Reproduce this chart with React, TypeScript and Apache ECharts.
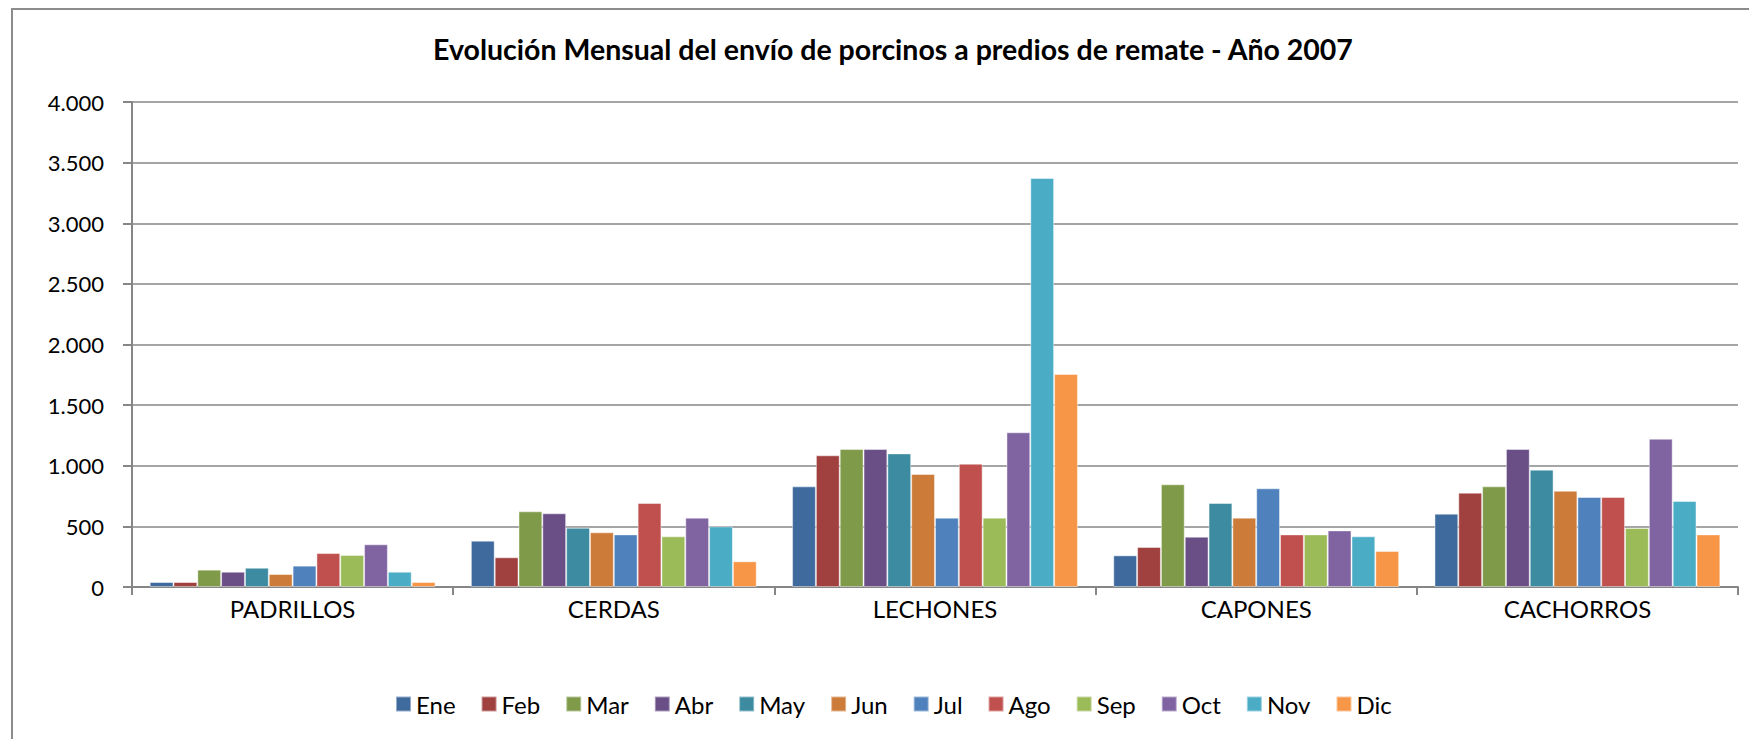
import React, { useEffect, useRef } from "react";
import * as echarts from "echarts";

const categories = ["PADRILLOS", "CERDAS", "LECHONES", "CAPONES", "CACHORROS"];
const months = ["Ene", "Feb", "Mar", "Abr", "May", "Jun", "Jul", "Ago", "Sep", "Oct", "Nov", "Dic"];

const ene = [41, 382, 830, 261, 605];
const feb = [41, 245, 1086, 330, 778];
const mar = [143, 624, 1138, 847, 830];
const abr = [126, 608, 1138, 415, 1138];
const may = [159, 489, 1102, 693, 968];
const jun = [107, 451, 932, 572, 794];
const jul = [176, 434, 572, 814, 742];
const ago = [280, 693, 1017, 434, 742];
const sep = [264, 418, 572, 434, 487];
const oct = [352, 572, 1276, 467, 1223];
const nov = [126, 500, 3373, 418, 709];
const dic = [41, 212, 1757, 297, 434];

const seriesValues = [ene, feb, mar, abr, may, jun, jul, ago, sep, oct, nov, dic];

const colors = [
  "#3F6A9E", "#A0403F", "#7F9A48", "#6A4F87", "#3C8BA1", "#CC7B38",
  "#4F81BD", "#C0504D", "#9BBB59", "#8064A2", "#4BACC6", "#F79646",
];

const yTicks = [0, 500, 1000, 1500, 2000, 2500, 3000, 3500, 4000];

const titleText = "Evolución Mensual del envío de porcinos a predios de remate - Año 2007";

function fmt(v: number): string {
  return String(v).replace(/\B(?=(\d{3})+(?!\d))/g, ".");
}

export default function App() {
  const ref = useRef<HTMLDivElement>(null);
  useEffect(() => {
    if (!ref.current) return;
    const chart = echarts.init(ref.current, null, { renderer: "svg" });
    const font = "Lato";
    chart.setOption({
      animation: false,
      backgroundColor: "#ffffff",
      color: colors,
      graphic: [
        {
          type: "rect",
          shape: { x: 12, y: 9, width: 1800, height: 800 },
          style: { fill: "none", stroke: "#8c8c8c", lineWidth: 2 },
          silent: true,
          z: -1,
        },
        {
          type: "text",
          x: 893,
          y: 49,
          silent: true,
          style: {
            text: titleText,
            align: "center",
            verticalAlign: "middle",
            fontFamily: font,
            fontWeight: "bold",
            fontSize: 28.5,
            fill: "#000",
          },
        },
      ],
      legend: {
        data: months,
        top: 687,
        left: 390,
        icon: "rect",
        itemWidth: 15,
        itemHeight: 15,
        itemGap: 25,
        textStyle: { fontFamily: font, fontSize: 24, color: "#000" },
      },
      grid: { left: 132, right: 11, top: 102, bottom: 152, containLabel: false },
      xAxis: {
        type: "category",
        data: categories,
        axisLine: { lineStyle: { color: "#868686", width: 2 } },
        axisTick: { show: true, length: 8, lineStyle: { color: "#868686", width: 2 } },
        axisLabel: { fontFamily: font, fontSize: 24, color: "#000", margin: 9 },
      },
      yAxis: {
        type: "value",
        min: yTicks[0],
        max: yTicks[yTicks.length - 1],
        interval: 500,
        axisLine: { show: true, lineStyle: { color: "#868686", width: 2 } },
        axisTick: { show: true, length: 9, lineStyle: { color: "#868686", width: 2 } },
        splitLine: { show: true, lineStyle: { color: "#878787", width: 1.5 } },
        axisLabel: { fontFamily: font, fontSize: 22, color: "#000", margin: 28, formatter: (v: number) => fmt(v) },
      },
      series: months.map((m, i) => ({
        name: m,
        type: "bar",
        data: seriesValues[i],
        barGap: "0%",
        barCategoryGap: "11%",
        itemStyle: { color: colors[i], borderColor: "rgba(255,255,255,0.45)", borderWidth: 1 },
      })),
    });
    return () => chart.dispose();
  }, []);
  return (
    <div
      ref={ref}
      style={{ position: "absolute", left: 0, top: 0, width: 1749, height: 739 }}
    />
  );
}
